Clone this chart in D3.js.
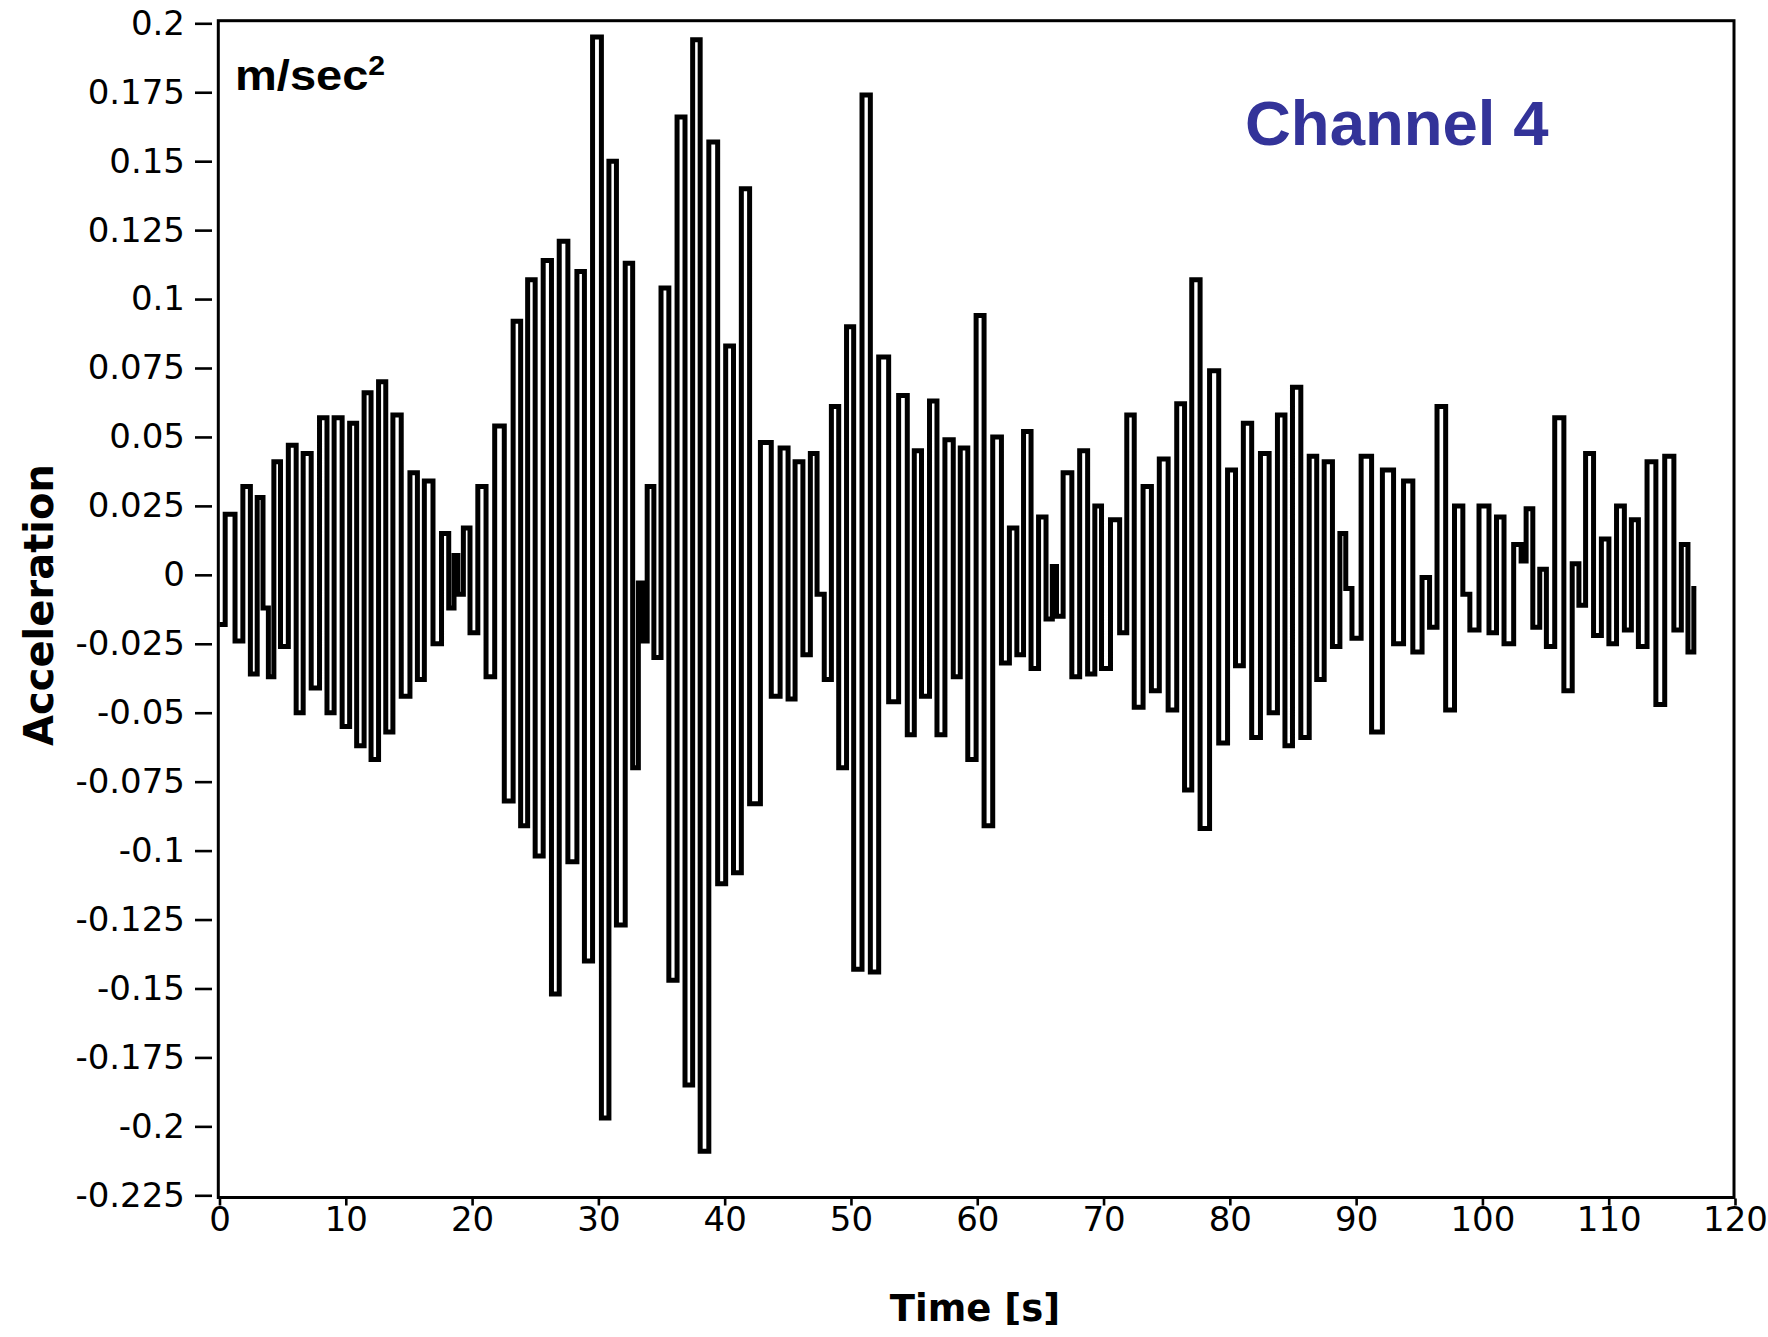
<!DOCTYPE html>
<html><head><meta charset="utf-8">
<script src="https://cdn.jsdelivr.net/npm/d3@7"></script>
<style>body{margin:0;background:#fff}</style>
</head><body>
<svg id="chart" width="1768" height="1337"></svg>
<script>
// ---- data ----
const timeSec = [0.00,0.90,1.56,2.14,2.75,3.22,3.67,4.07,4.54,5.12,5.78,6.36,6.89,7.63,8.21,8.81,9.34,10.08,10.53,
11.19,11.71,12.29,12.90,13.43,14.03,14.75,15.41,15.93,16.51,17.30,17.86,18.44,18.70,19.05,19.57,20.10,20.81,21.40,
22.18,22.92,23.58,24.11,24.69,25.30,25.96,26.61,27.19,27.98,28.62,29.17,29.91,30.57,31.10,31.76,
32.49,32.94,33.39,33.60,34.13,34.66,35.26,35.90,36.56,37.16,37.77,38.35,39.14,39.75,40.41,40.99,41.65,42.30,
43.36,44.02,44.76,45.28,45.87,46.52,47.05,47.58,48.19,48.71,49.35,49.95,50.48,51.27,51.80,52.59,53.38,
54.17,54.75,55.28,55.89,56.55,57.07,57.81,58.39,58.92,59.58,60.24,60.84,61.61,62.22,62.87,63.40,63.93,
64.59,65.12,65.77,66.12,66.43,67.17,67.81,68.41,69.07,69.55,70.13,70.97,71.58,72.10,72.76,73.50,74.08,
74.75,75.48,76.11,76.72,77.25,78.04,78.75,79.49,80.15,80.75,81.39,82.07,82.78,83.44,84.10,84.63,85.29,
85.95,86.62,87.14,87.80,88.45,88.98,89.38,89.96,90.83,91.62,92.54,93.39,94.12,94.86,95.58,
96.05,96.76,97.42,98.16,98.74,99.27,100.19,100.85,101.38,102.04,102.91,103.22,103.70,104.28,104.80,105.33,106.12,106.78,
107.44,107.84,108.50,109.10,109.74,110.29,110.95,111.53,112.06,112.64,113.43,114.04,114.83,115.49,116.01,116.54,116.94];
const accel = [-0.018,0.022,-0.024,0.032,-0.036,0.028,-0.012,-0.037,0.041,-0.026,0.047,-0.050,0.044,-0.041,0.057,-0.050,0.057,-0.055,0.055,
-0.062,0.066,-0.067,0.070,-0.057,0.058,-0.044,0.037,-0.038,0.034,-0.025,0.015,-0.012,0.007,-0.007,0.017,-0.021,0.032,-0.037,
0.054,-0.082,0.092,-0.091,0.107,-0.102,0.114,-0.152,0.121,-0.104,0.110,-0.140,0.195,-0.197,0.150,-0.127,
0.113,-0.070,-0.003,-0.024,0.032,-0.030,0.104,-0.147,0.166,-0.185,0.194,-0.209,0.157,-0.112,0.083,-0.108,0.140,-0.083,
0.048,-0.044,0.046,-0.045,0.041,-0.029,0.044,-0.007,-0.038,0.061,-0.070,0.090,-0.143,0.174,-0.144,0.079,-0.046,
0.065,-0.058,0.045,-0.044,0.063,-0.058,0.049,-0.037,0.046,-0.067,0.094,-0.091,0.050,-0.032,0.017,-0.029,0.052,
-0.034,0.021,-0.016,0.003,-0.015,0.037,-0.037,0.045,-0.036,0.025,-0.034,0.020,-0.021,0.058,-0.048,0.032,-0.042,
0.042,-0.049,0.062,-0.078,0.107,-0.092,0.074,-0.061,0.038,-0.033,0.055,-0.059,0.044,-0.050,0.058,-0.062,0.068,
-0.059,0.043,-0.038,0.041,-0.026,0.015,-0.005,-0.023,0.043,-0.057,0.038,-0.025,0.034,-0.028,-0.001,
-0.019,0.061,-0.049,0.025,-0.007,-0.020,0.025,-0.021,0.021,-0.025,0.011,0.005,0.024,-0.019,0.002,-0.026,0.057,-0.042,
0.004,-0.011,0.044,-0.022,0.013,-0.025,0.025,-0.020,0.020,-0.026,0.041,-0.047,0.043,-0.020,0.011,-0.028,-0.005];
const yTickValues = [0.2,0.175,0.15,0.125,0.1,0.075,0.05,0.025,0,-0.025,-0.05,-0.075,-0.1,-0.125,-0.15,-0.175,-0.2,-0.225];
const yTickLabels = ["0.2","0.175","0.15","0.125","0.1","0.075","0.05","0.025","0","-0.025","-0.05","-0.075","-0.1","-0.125","-0.15","-0.175","-0.2","-0.225"];
const xTickValues = [0,10,20,30,40,50,60,70,80,90,100,110,120];
const xTickLabels = ["0","10","20","30","40","50","60","70","80","90","100","110","120"];
const xTitle = "Time [s]";
const yTitle = "Acceleration";
const unitText = "m/sec";
const unitSup = "2";
const channelText = "Channel 4";

// ---- layout ----
const svg = d3.select("#chart");
const frame = {left:218.3, top:20.7, right:1734, bottom:1197.5};
const x = d3.scaleLinear().domain([0,120]).range([219.5,1735]);
const y = d3.scaleLinear().domain([-0.225,0.2]).range([1195.3,23.3]);

svg.append("defs").append("clipPath").attr("id","plotclip")
  .append("rect").attr("x",frame.left).attr("y",frame.top)
  .attr("width",frame.right-frame.left).attr("height",frame.bottom-frame.top);

// waveform
const idx = d3.range(timeSec.length);
const line = d3.line().x(i=>x(timeSec[i])).y(i=>y(accel[i])).curve(d3.curveStep);
svg.append("path").attr("clip-path","url(#plotclip)")
  .attr("d",line(idx)).attr("fill","none").attr("stroke","#000")
  .attr("stroke-width",5).attr("stroke-linejoin","miter").attr("stroke-linecap","butt");

// frame
svg.append("rect").attr("x",frame.left).attr("y",frame.top)
  .attr("width",frame.right-frame.left).attr("height",frame.bottom-frame.top)
  .attr("fill","none").attr("stroke","#000").attr("stroke-width",3);

// y axis
const yAxis = d3.axisLeft(y).tickValues(yTickValues)
  .tickFormat((d,i)=>yTickLabels[i]).tickSize(17).tickPadding(10);
const gy = svg.append("g").attr("transform","translate(212,0)").call(yAxis);
gy.select(".domain").remove();
gy.selectAll(".tick line").attr("stroke","#000").attr("stroke-width",2.6);
gy.selectAll("text").attr("font-family","DejaVu Sans").attr("font-size",34).attr("fill","#000");

// x axis
const xAxis = d3.axisBottom(x).tickValues(xTickValues)
  .tickFormat((d,i)=>xTickLabels[i]).tickSize(7).tickPadding(1);
const gx = svg.append("g").attr("transform",`translate(0,${frame.bottom+1})`).call(xAxis);
gx.select(".domain").remove();
gx.selectAll(".tick line").attr("stroke","#000").attr("stroke-width",2.6);
gx.selectAll("text").attr("font-family","DejaVu Sans").attr("font-size",34).attr("fill","#000");

// titles
svg.append("text").attr("x",975).attr("y",1321).attr("text-anchor","middle")
  .attr("font-family","DejaVu Sans").attr("font-weight","bold").attr("font-size",37)
  .attr("fill","#000").text(xTitle);
svg.append("text").attr("transform","translate(53,605) rotate(-90)").attr("text-anchor","middle")
  .attr("font-family","DejaVu Sans").attr("font-weight","bold").attr("font-size",40)
  .attr("fill","#000").text(yTitle);

// unit label
const ut = svg.append("text").attr("transform","translate(235,90) scale(1.12,1)")
  .attr("font-family","Liberation Sans, Arial, sans-serif").attr("font-weight","bold")
  .attr("font-size",42).attr("fill","#000");
ut.append("tspan").text(unitText);
ut.append("tspan").attr("font-size",27).attr("dy",-15).text(unitSup);

// channel label
svg.append("text").attr("x",1245).attr("y",145)
  .attr("font-family","Liberation Sans, Arial, sans-serif").attr("font-weight","bold")
  .attr("font-size",63.5).attr("fill","#333399").text(channelText);
</script>
</body></html>
